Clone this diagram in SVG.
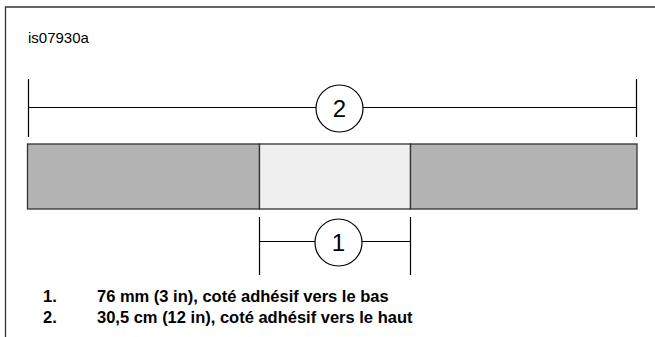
<svg xmlns="http://www.w3.org/2000/svg" width="655" height="337" viewBox="0 0 655 337">
<style>
.frame{stroke:#333;stroke-width:1.3;fill:none}
.dim{stroke:#000;stroke-width:1.2;fill:none}
.bar{stroke:#333;stroke-width:1.3}
.dark{fill:#b3b3b3}
.light{fill:#efefef}
.callout{fill:#fff;stroke:#000;stroke-width:1.2}
.num{font-family:"Liberation Sans",Arial,sans-serif;font-size:24px;fill:#000;text-anchor:middle}
.lbl{font-family:"Liberation Sans",Arial,sans-serif;font-size:15px;fill:#000}
.leg{font-family:"Liberation Sans",Arial,sans-serif;font-size:16.5px;font-weight:bold;fill:#000}
</style>
<rect width="655" height="337" fill="#fff"/>
<g id="frame">
<path class="frame" d="M5.5,337 V7 H655"/>
</g>
<text class="lbl" x="28" y="43">is07930a</text>
<g id="strip">
<rect class="bar dark" x="27.5" y="144" width="232" height="65"/>
<rect class="bar light" x="259.5" y="144" width="151" height="65"/>
<rect class="bar dark" x="410.5" y="144" width="226.5" height="65"/>
</g>
<g id="connectors">
<path class="dim" d="M28.5,79 V137 M636.5,79 V137 M28.5,107.5 H316 M363,107.5 H636.5"/>
<path class="dim" d="M259.5,217 V275 M410.5,217 V275 M259.5,241.5 H315 M362,241.5 H410.5"/>
</g>
<g id="callout-2">
<circle class="callout" cx="339.5" cy="108.5" r="23.5"/>
<text class="num" x="339.5" y="117">2</text>
</g>
<g id="callout-1">
<circle class="callout" cx="338.5" cy="242.5" r="23.5"/>
<text class="num" x="338.5" y="251">1</text>
</g>
<g id="legend">
<text class="leg" x="43" y="302">1.</text>
<text class="leg" x="97" y="302">76 mm (3 in), coté adhésif vers le bas</text>
<text class="leg" x="43" y="323">2.</text>
<text class="leg" x="97" y="323">30,5 cm (12 in), coté adhésif vers le haut</text>
</g>
</svg>
